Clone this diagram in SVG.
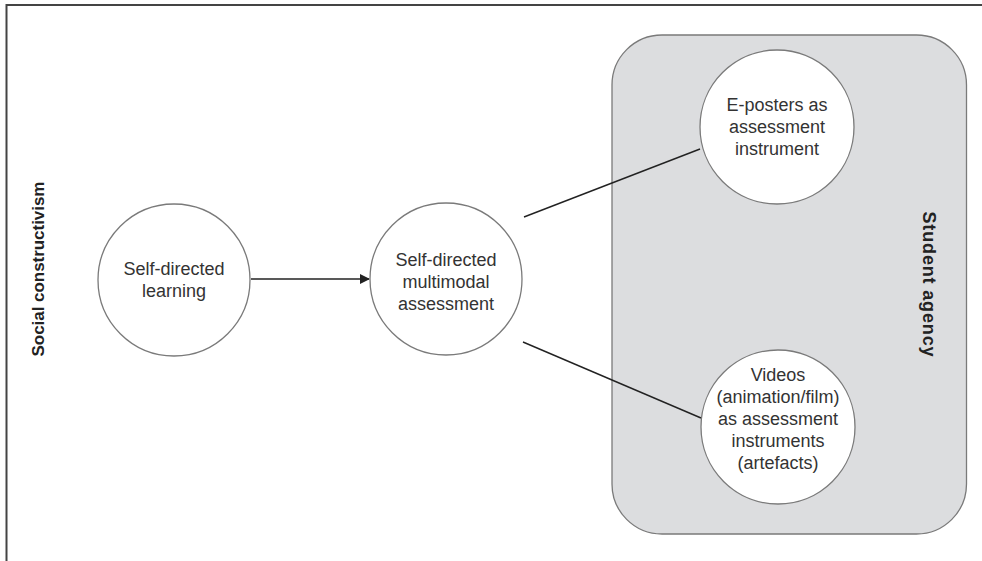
<svg xmlns="http://www.w3.org/2000/svg" width="982" height="561" viewBox="0 0 982 561">
<defs>
<style>
.frame{stroke:#444;stroke-width:2;fill:none}
.node{fill:#fff;stroke:#7a7a7a;stroke-width:1.3}
.t{font-family:"Liberation Sans",Arial,sans-serif;font-size:18px;fill:#333;text-anchor:middle}
.side{font-family:"Liberation Sans",Arial,sans-serif;font-size:17px;font-weight:bold;fill:#222;text-anchor:middle}
.con{stroke:#222;stroke-width:1.4;fill:none}
</style>
<marker id="ah" markerWidth="10" markerHeight="10" refX="9" refY="5" orient="auto" markerUnits="userSpaceOnUse">
<path d="M0,0 L10,5 L0,10 z" fill="#222"/>
</marker>
</defs>
<rect width="982" height="561" fill="#fff"/>
<path class="frame" d="M6.5,561 V5 H982"/>
<g id="agency">
<rect x="612" y="35" width="354.5" height="499" rx="50" ry="50" fill="#dcdddf" stroke="#7a7a7a" stroke-width="1.3"/>
<text class="side" transform="translate(929,284) rotate(90)" dy="6" style="font-size:18px" textLength="145" lengthAdjust="spacing">Student agency</text>
</g>
<g id="constructivism">
<text class="side" transform="translate(38,269) rotate(-90)" dy="6" textLength="175" lengthAdjust="spacing">Social constructivism</text>
</g>
<g id="connectors">
<line class="con" x1="251" y1="279" x2="369" y2="279" marker-end="url(#ah)"/>
<line class="con" x1="524" y1="217" x2="700" y2="149"/>
<line class="con" x1="523" y1="342" x2="701" y2="418"/>
</g>
<g id="n1">
<circle class="node" cx="174" cy="280" r="76"/>
<text class="t" x="174" y="275">Self-directed</text>
<text class="t" x="174" y="297">learning</text>
</g>
<g id="n2">
<circle class="node" cx="446" cy="279" r="76"/>
<text class="t" x="446" y="266">Self-directed</text>
<text class="t" x="446" y="288">multimodal</text>
<text class="t" x="446" y="310">assessment</text>
</g>
<g id="n3">
<circle class="node" cx="777" cy="127" r="77"/>
<text class="t" x="777" y="111">E-posters as</text>
<text class="t" x="777" y="133">assessment</text>
<text class="t" x="777" y="155">instrument</text>
</g>
<g id="n4">
<circle class="node" cx="778" cy="427" r="77"/>
<text class="t" x="778" y="381">Videos</text>
<text class="t" x="778" y="403">(animation/film)</text>
<text class="t" x="778" y="425">as assessment</text>
<text class="t" x="778" y="447">instruments</text>
<text class="t" x="778" y="469">(artefacts)</text>
</g>
</svg>
